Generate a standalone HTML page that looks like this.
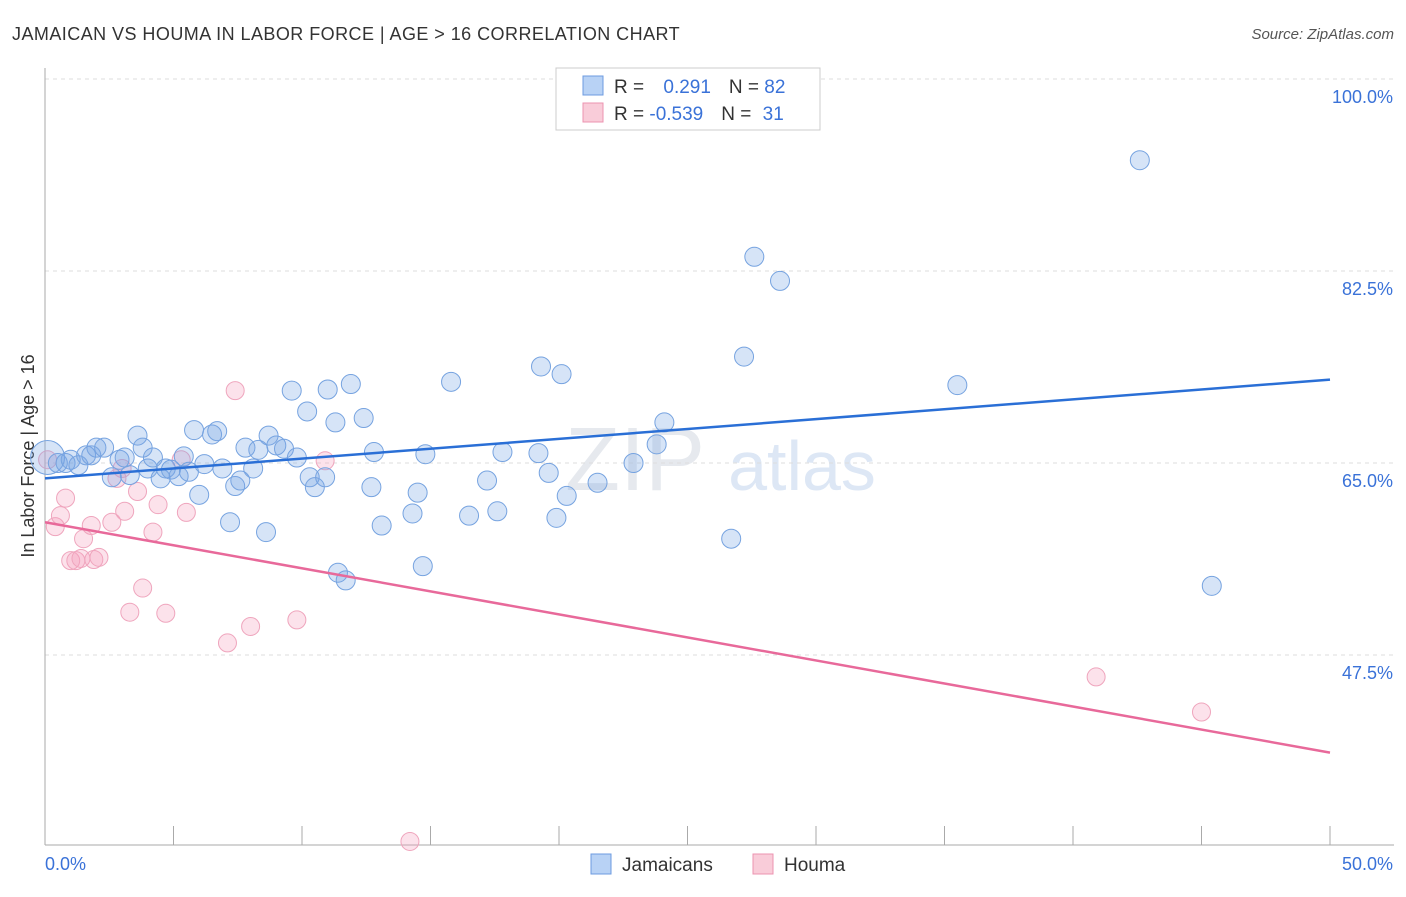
<!DOCTYPE html>
<html><head><meta charset="utf-8"><style>
body{margin:0;background:#fff;font-family:"Liberation Sans",sans-serif}
svg text{font-family:"Liberation Sans",sans-serif}
</style></head><body>
<svg id="c" width="1406" height="892">
<text x="12" y="40" font-size="18" fill="#333" letter-spacing="0.45">JAMAICAN VS HOUMA IN LABOR FORCE | AGE &gt; 16 CORRELATION CHART</text>
<text x="1394" y="39" font-size="15" fill="#555" font-style="italic" text-anchor="end">Source: ZipAtlas.com</text>
<text x="34" y="456" font-size="18" fill="#333" text-anchor="middle" transform="rotate(-90 34 456)">In Labor Force | Age &gt; 16</text>
<text x="635" y="490" font-size="90" fill="#e6e9ee" font-family="Liberation Serif" text-anchor="middle">ZIP</text>
<text x="802" y="490" font-size="70" fill="#dde7f5" text-anchor="middle">atlas</text>
<g id="grid"></g><g id="marks"></g>
<g>
<rect x="556" y="68" width="264" height="62" fill="#fff" stroke="#ccc"/>
<rect x="583" y="76" width="20" height="19" fill="#b8d2f5" stroke="#6d9be0"/>
<rect x="583" y="103" width="20" height="19" fill="#f9ccd9" stroke="#ec93b0"/>
<text x="614" y="93" font-size="19" fill="#333">R = <tspan fill="#3a72d8" dx="14">0.291</tspan><tspan dx="18" fill="#333">N = </tspan><tspan fill="#3a72d8">82</tspan></text>
<text x="614" y="120" font-size="19" fill="#333">R = <tspan fill="#3a72d8">-0.539</tspan><tspan dx="18" fill="#333">N = </tspan><tspan fill="#3a72d8" dx="6">31</tspan></text>
</g>
<g>
<rect x="591" y="854" width="20" height="20" fill="#b8d2f5" stroke="#6d9be0"/>
<text x="622" y="871" font-size="19" fill="#333">Jamaicans</text>
<rect x="753" y="854" width="20" height="20" fill="#f9ccd9" stroke="#ec93b0"/>
<text x="784" y="871" font-size="19" fill="#333">Houma</text>
</g>
</svg>
<script>
const blueX=[0.1,0.5,0.8,1.0,1.3,1.6,1.8,2.0,2.3,2.6,2.9,3.1,3.3,3.6,3.8,4.0,4.2,4.5,4.7,4.9,5.2,5.4,5.6,5.8,6.0,6.2,6.5,6.7,6.9,7.2,7.4,7.6,7.8,8.1,8.3,8.6,8.7,9.0,9.3,9.6,9.8,10.2,10.3,10.5,10.9,11.0,11.3,11.4,11.7,11.9,12.4,12.7,12.8,13.1,14.3,14.5,14.7,14.8,15.8,16.5,17.2,17.6,17.8,19.2,19.3,19.6,19.9,20.1,20.3,21.5,22.9,23.8,24.1,26.7,27.2,27.6,28.6,35.5,42.6,45.4];
const blueY=[65.5,65.0,65.0,65.3,64.8,65.7,65.7,66.4,66.4,63.7,65.3,65.5,63.9,67.5,66.4,64.5,65.5,63.6,64.5,64.4,63.8,65.6,64.2,68.0,62.1,64.9,67.6,67.9,64.5,59.6,62.9,63.4,66.4,64.5,66.2,58.7,67.5,66.6,66.3,71.6,65.5,69.7,63.7,62.8,63.7,71.7,68.7,55.0,54.3,72.2,69.1,62.8,66.0,59.3,60.4,62.3,55.6,65.8,72.4,60.2,63.4,60.6,66.0,65.9,73.8,64.1,60.0,73.1,62.0,63.2,65.0,66.7,68.7,58.1,74.7,83.8,81.6,72.1,92.6,53.8];
const pinkX=[0.1,0.4,0.6,0.8,1.0,1.2,1.4,1.5,1.8,1.9,2.1,2.6,2.8,3.0,3.1,3.3,3.6,3.8,4.2,4.4,4.7,5.3,5.5,7.1,7.4,8.0,9.8,10.9,14.2,40.9,45.0];
const pinkY=[65.3,59.2,60.2,61.8,56.1,56.1,56.3,58.1,59.3,56.2,56.4,59.6,63.6,64.5,60.6,51.4,62.4,53.6,58.7,61.2,51.3,65.3,60.5,48.6,71.6,50.1,50.7,65.2,30.5,45.5,42.3];
const trendX=[0,50];
const blueTrend=[63.6,72.6];
const pinkTrend=[59.6,38.6];
const yTicks=[100,82.5,65,47.5];
const yTickLabels=["100.0%","82.5%","65.0%","47.5%"];
const xTicks=[0,5,10,15,20,25,30,35,40,45,50];
const NS="http://www.w3.org/2000/svg";
const X=v=>45+v*25.7, Y=v=>463-(v-65)*10.97;
function el(t,a,p){const e=document.createElementNS(NS,t);for(const k in a)e.setAttribute(k,a[k]);p.appendChild(e);return e;}
const g=document.getElementById('grid'),m=document.getElementById('marks');
yTicks.forEach((v,i)=>{
 const l=el('line',{x1:45,x2:1394,y1:Y(v),y2:Y(v),stroke:'#ddd','stroke-dasharray':'4,4'},g);
 
 
 const t=el('text',{x:1393,y:Y(v)+24,'font-size':18,fill:'#3a72d8','text-anchor':'end'},g);t.textContent=yTickLabels[i];
 
 
});
el('line',{x1:45,x2:45,y1:68,y2:845,stroke:'#aaa'},g);
el('line',{x1:45,x2:1394,y1:845,y2:845,stroke:'#aaa'},g);
xTicks.forEach(v=>{const l=el('line',{x1:X(v),x2:X(v),y1:826,y2:845,stroke:'#aaa'},g);
 
 });
let t=el('text',{x:45,y:870,'font-size':18,fill:'#3a72d8'},g);t.textContent='0.0%';


t=el('text',{x:1393,y:870,'font-size':18,fill:'#3a72d8','text-anchor':'end'},g);t.textContent='50.0%';


pinkX.forEach((v,i)=>{const c=el('circle',{cx:X(v),cy:Y(pinkY[i]),r:9,fill:'rgba(244,160,190,0.3)',stroke:'#efa5bd','stroke-width':1},m);
 
 });
blueX.forEach((v,i)=>{const c=el('circle',{cx:X(v),cy:Y(blueY[i]),r:i==0?17:9.5,fill:'rgba(120,165,230,0.3)',stroke:'#76a3e0','stroke-width':1},m);
 
 });
let L=el('line',{x1:X(trendX[0]),x2:X(trendX[1]),y1:Y(blueTrend[0]),y2:Y(blueTrend[1]),stroke:'#2a6fd6','stroke-width':2.5},m);


L=el('line',{x1:X(trendX[0]),x2:X(trendX[1]),y1:Y(pinkTrend[0]),y2:Y(pinkTrend[1]),stroke:'#e8699a','stroke-width':2.5},m);


</script>
</body></html>
